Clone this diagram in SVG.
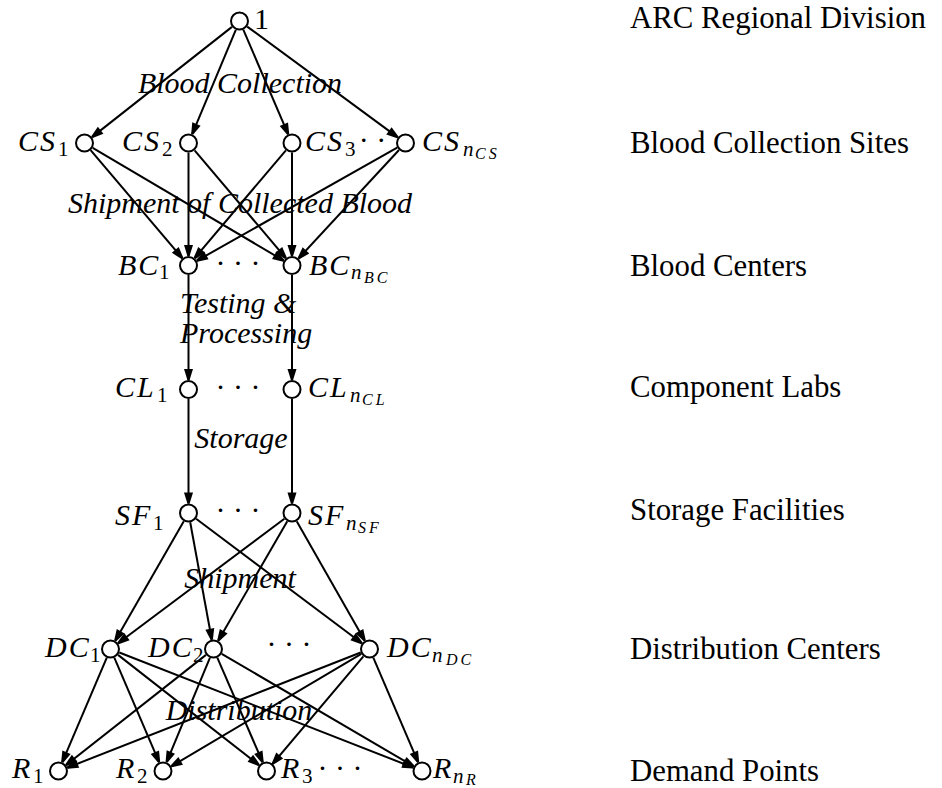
<svg xmlns="http://www.w3.org/2000/svg" width="942" height="788" viewBox="0 0 942 788" font-family="'Liberation Serif', 'DejaVu Serif', serif">
<style>
.bg{fill:#fff}
.e line{stroke:#000;stroke-width:2;fill:none;marker-end:url(#ah)}
.n circle{fill:#fff;stroke:#000;stroke-width:2}
text{font-size:30px;fill:#000}
.m{font-style:italic;letter-spacing:2px}
.d{font-style:normal;letter-spacing:0;font-size:21px}
.s{font-style:italic;letter-spacing:0;font-size:21px}
.ss{font-style:italic;letter-spacing:3px;font-size:16px}
.el{font-style:italic}
.rl text{font-style:normal;font-size:30.8px}
.dots{font-style:normal}
</style>
<defs>
<marker id="ah" markerUnits="userSpaceOnUse" markerWidth="14" markerHeight="12" refX="11" refY="4.5" orient="auto" overflow="visible">
<path d="M0,0 L11,3.4 L11,5.6 L0,9 Z" fill="#000"/>
</marker>
</defs>
<rect class="bg" x="0" y="0" width="942" height="788"/>

<g id="connectors" class="e">
<line x1="232.0" y1="26.9" x2="92.0" y2="137.1"/>
<line x1="235.8" y1="29.8" x2="192.2" y2="134.2"/>
<line x1="243.3" y1="29.7" x2="288.2" y2="134.3"/>
<line x1="247.2" y1="26.6" x2="397.8" y2="137.4"/>

<line x1="90.6" y1="150.2" x2="182.4" y2="258.3"/>
<line x1="92.7" y1="147.8" x2="283.8" y2="260.7"/>
<line x1="188.5" y1="152.5" x2="188.5" y2="256"/>
<line x1="194.6" y1="150.3" x2="285.9" y2="258.2"/>
<line x1="285.9" y1="150.3" x2="194.6" y2="258.2"/>
<line x1="292" y1="152.5" x2="292" y2="256"/>
<line x1="397.2" y1="147.7" x2="196.8" y2="260.8"/>
<line x1="399.0" y1="150.0" x2="298.5" y2="258.5"/>

<line x1="188.5" y1="275" x2="188.5" y2="380"/>
<line x1="292" y1="275" x2="292" y2="380"/>
<line x1="188.5" y1="399" x2="188.5" y2="503.5"/>
<line x1="292" y1="399" x2="292" y2="503.5"/>

<line x1="183.8" y1="521.2" x2="115.2" y2="640.8"/>
<line x1="190.2" y1="522.3" x2="211.8" y2="639.7"/>
<line x1="196.1" y1="518.7" x2="361.9" y2="643.3"/>
<line x1="284.4" y1="518.7" x2="118.1" y2="643.3"/>
<line x1="287.3" y1="521.2" x2="218.2" y2="640.8"/>
<line x1="296.7" y1="521.3" x2="364.8" y2="640.7"/>

<line x1="106.8" y1="657.7" x2="62.2" y2="762.3"/>
<line x1="114.3" y1="657.7" x2="159.2" y2="762.3"/>
<line x1="118.0" y1="654.9" x2="259.0" y2="765.1"/>
<line x1="119.3" y1="652.5" x2="413.2" y2="767.5"/>
<line x1="206.0" y1="654.9" x2="66.0" y2="765.1"/>
<line x1="209.9" y1="657.8" x2="166.6" y2="762.2"/>
<line x1="217.3" y1="657.7" x2="262.7" y2="762.3"/>
<line x1="221.7" y1="653.8" x2="413.8" y2="766.4"/>
<line x1="360.7" y1="652.5" x2="67.3" y2="767.7"/>
<line x1="361.3" y1="653.8" x2="171.2" y2="766.4"/>
<line x1="363.4" y1="656.3" x2="272.6" y2="763.9"/>
<line x1="373.3" y1="657.7" x2="418.2" y2="762.3"/>
</g>

<g id="edge-labels" class="el">
<text class="el" x="240" y="93" text-anchor="middle">Blood Collection</text>
<text class="el" x="240" y="213" text-anchor="middle">Shipment of Collected Blood</text>
<text class="el" x="180" y="313">Testing &amp;</text>
<text class="el" x="180" y="343">Processing</text>
<text class="el" x="241" y="448" text-anchor="middle">Storage</text>
<text class="el" x="240" y="588" text-anchor="middle">Shipment</text>
<text class="el" x="239" y="720" text-anchor="middle">Distribution</text>
</g>

<g id="node-1" class="n"><circle cx="239.5" cy="21" r="8.5"/><text x="254" y="29">1</text></g>

<g id="node-CS1" class="n"><circle cx="84.5" cy="143" r="8.5"/><text class="m" y="151"><tspan x="18">CS</tspan><tspan class="d" x="58" y="155.5">1</tspan></text></g>
<g id="node-CS2" class="n"><circle cx="188.5" cy="143" r="8.5"/><text class="m" y="151"><tspan x="122">CS</tspan><tspan class="d" x="162" y="155.5">2</tspan></text></g>
<g id="node-CS3" class="n"><circle cx="292" cy="143" r="8.5"/><text class="m" y="151"><tspan x="305">CS</tspan><tspan class="d" x="345" y="155.5">3</tspan></text><text class="dots" x="372.5" y="150" text-anchor="middle">· ·</text></g>
<g id="node-CSn" class="n"><circle cx="405.5" cy="143" r="8.5"/><text class="m" y="151"><tspan x="422">CS</tspan><tspan class="s" x="463" y="155.5">n</tspan><tspan class="ss" x="475" y="159">CS</tspan></text></g>

<g id="node-BC1" class="n"><circle cx="188.5" cy="265.5" r="8.5"/><text class="m" y="274.5"><tspan x="118">BC</tspan><tspan class="d" x="159" y="279">1</tspan></text></g>
<g id="node-BCn" class="n"><circle cx="292" cy="265.5" r="8.5"/><text class="m" y="274.5"><tspan x="309">BC</tspan><tspan class="s" x="351" y="279">n</tspan><tspan class="ss" x="364" y="282.5">BC</tspan></text></g>
<text class="dots" x="238" y="273" text-anchor="middle">· · ·</text>

<g id="node-CL1" class="n"><circle cx="188.5" cy="389.5" r="8.5"/><text class="m" y="397"><tspan x="115">CL</tspan><tspan class="d" x="157" y="401.5">1</tspan></text></g>
<g id="node-CLn" class="n"><circle cx="292" cy="389.5" r="8.5"/><text class="m" y="397"><tspan x="308">CL</tspan><tspan class="s" x="350" y="401.5">n</tspan><tspan class="ss" x="362" y="405">CL</tspan></text></g>
<text class="dots" x="238" y="397" text-anchor="middle">· · ·</text>

<g id="node-SF1" class="n"><circle cx="188.5" cy="513" r="8.5"/><text class="m" y="525"><tspan x="115">SF</tspan><tspan class="d" x="153" y="529.5">1</tspan></text></g>
<g id="node-SFn" class="n"><circle cx="292" cy="513" r="8.5"/><text class="m" y="525"><tspan x="308">SF</tspan><tspan class="s" x="346" y="529.5">n</tspan><tspan class="ss" x="358" y="533">SF</tspan></text></g>
<text class="dots" x="238" y="520" text-anchor="middle">· · ·</text>

<g id="node-DC1" class="n"><circle cx="110.5" cy="649" r="8.5"/><text class="m" y="657"><tspan x="45">DC</tspan><tspan class="d" x="90" y="661.5">1</tspan></text></g>
<g id="node-DC2" class="n"><circle cx="213.5" cy="649" r="8.5"/><text class="m" y="657"><tspan x="148">DC</tspan><tspan class="d" x="193" y="661.5">2</tspan></text></g>
<g id="node-DCn" class="n"><circle cx="369.5" cy="649" r="8.5"/><text class="m" y="657"><tspan x="387">DC</tspan><tspan class="s" x="432" y="661.5">n</tspan><tspan class="ss" x="446" y="665">DC</tspan></text></g>
<text class="dots" x="289" y="654" text-anchor="middle">· · ·</text>

<g id="node-R1" class="n"><circle cx="58.5" cy="771" r="8.5"/><text class="m" y="778"><tspan x="12">R</tspan><tspan class="d" x="33" y="782.5">1</tspan></text></g>
<g id="node-R2" class="n"><circle cx="163" cy="771" r="8.5"/><text class="m" y="778"><tspan x="116">R</tspan><tspan class="d" x="137" y="782.5">2</tspan></text></g>
<g id="node-R3" class="n"><circle cx="266.5" cy="771" r="8.5"/><text class="m" y="778"><tspan x="281">R</tspan><tspan class="d" x="302" y="782.5">3</tspan></text><text class="dots" x="340" y="778" text-anchor="middle">· · ·</text></g>
<g id="node-Rn" class="n"><circle cx="422" cy="771" r="8.5"/><text class="m" y="778"><tspan x="433">R</tspan><tspan class="s" x="453" y="782.5">n</tspan><tspan class="ss" x="466" y="785">R</tspan></text></g>

<g id="tier-labels" class="rl">
<text x="630" y="27.5">ARC Regional Division</text>
<text x="630" y="153">Blood Collection Sites</text>
<text x="630" y="276">Blood Centers</text>
<text x="630" y="397">Component Labs</text>
<text x="630" y="520">Storage Facilities</text>
<text x="630" y="659">Distribution Centers</text>
<text x="630" y="780.5">Demand Points</text>
</g>
</svg>
